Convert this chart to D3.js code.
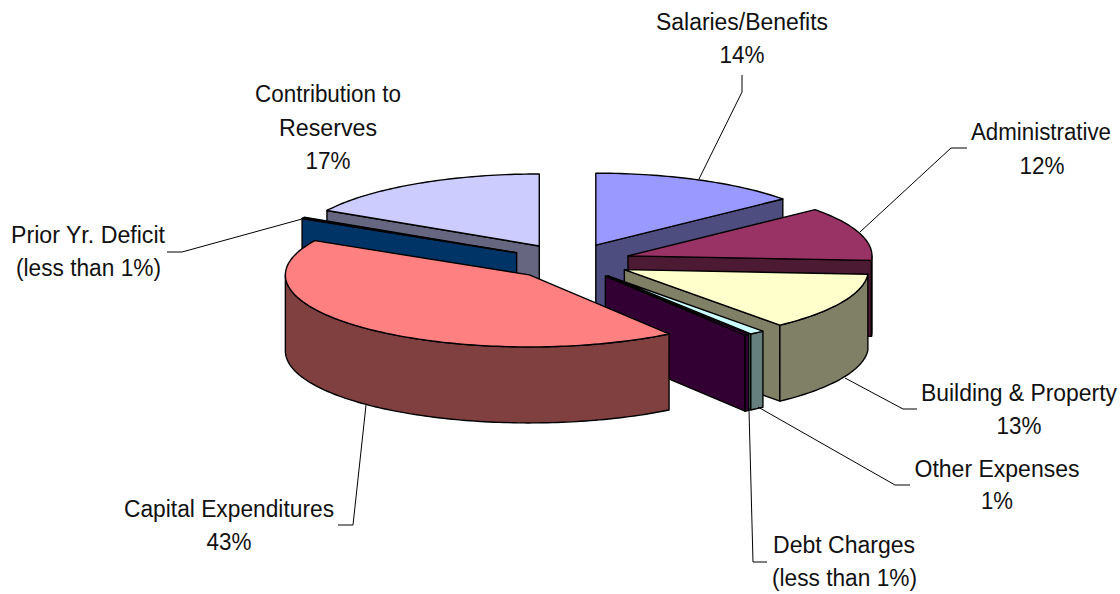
<!DOCTYPE html>
<html lang="en">
<head>
<meta charset="utf-8">
<title>Expenditures pie</title>
<script src="https://d3js.org/d3.v7.min.js"></script>
<style>
  body { margin: 0; background: #fff; }
  text { font-family: "Liberation Sans", Arial, sans-serif; font-size: 22px; fill: #111; }
</style>
</head>
<body>
<div id="canvas"></div>
<script type="text/javascript">
// slice order runs clockwise from 12 o'clock
const categories = ["Salaries/Benefits", "Administrative", "Building & Property", "Other Expenses",
  "Debt Charges", "Capital Expenditures", "Prior Yr. Deficit", "Contribution to Reserves"]
const shares = [13.9, 12.1, 13, 1, 0.3, 42.6, 0.3, 16.8]
const topColors = ["#9999ff", "#993366", "#ffffcc", "#ccffff", "#660066", "#ff8080", "#0066cc", "#ccccff"]
const wallColors = ["#4d4d80", "#4d1a33", "#808066", "#668080", "#330033", "#804040", "#003366", "#666680"]

// painter's order, back of the pie first (indexes into categories)
const drawOrder = [0, 7, 1, 2, 6, 3, 4, 5]

// label text: [string, centre x, baseline y, width]
const labelLines = [
  ["Salaries/Benefits", 742, 30, 172], ["14%", 742, 63, 45],
  ["Administrative", 1041, 140, 140], ["12%", 1042, 174, 45],
  ["Building & Property", 1019, 401, 196], ["13%", 1019, 434, 45],
  ["Other Expenses", 997, 477, 165], ["1%", 997, 509, 32],
  ["Debt Charges", 844, 553, 142], ["(less than 1%)", 844.5, 586, 145],
  ["Capital Expenditures", 229, 517, 210], ["43%", 229, 550, 45],
  ["Prior Yr. Deficit", 88, 243, 154], ["(less than 1%)", 88.5, 276, 145],
  ["Contribution to", 328, 102, 146], ["Reserves", 328, 136, 98], ["17%", 328, 169, 45]
]
const leaders = [
  [[742, 75], [742, 92], [699, 179]],
  [[967, 148], [951, 148], [860, 232]],
  [[917, 409], [903, 409], [845, 378]],
  [[910, 485], [895, 485], [758, 407]],
  [[767, 562], [753, 562], [749, 410]],
  [[338, 525], [353, 525], [366, 405]],
  [[167, 252], [182, 252], [302, 219]]
]

const width = 1120
const height = 594
const cx = 570, cy = 261.5
const rx = 244, ry = 72
const depth = 76
const explode = 0.25
const textStretch = 1.1 // the labels are taller and narrower than plain Liberation Sans

const x = d3.scaleLinear().domain([-1, 1]).range([cx - rx, cx + rx])
const y = d3.scaleLinear().domain([-1, 1]).range([cy - ry, cy + ry])

const svg = d3.select("#canvas").append("svg")
  .attr("width", width)
  .attr("height", height)
  .style("display", "block")

const arcs = d3.pie().sort(null).startAngle(0).endAngle(2 * Math.PI)(shares)
const line = d3.line()

// point on a slice: r in pie units, theta clockwise from top, dz pixels down
function pt(slice, r, theta, dz) {
  const mid = (slice.startAngle + slice.endAngle) / 2
  const ux = explode * Math.sin(mid) + r * Math.sin(theta)
  const uy = -explode * Math.cos(mid) - r * Math.cos(theta)
  return [x(ux), y(uy) + dz]
}

function rim(slice, a0, a1, dz) {
  const n = Math.max(2, Math.ceil((a1 - a0) / 0.02))
  return d3.range(n + 1).map(i => pt(slice, 1, a0 + (a1 - a0) * i / n, dz))
}

function sideWall(slice, theta) {
  return line([pt(slice, 0, theta, 0), pt(slice, 1, theta, 0),
    pt(slice, 1, theta, depth), pt(slice, 0, theta, depth)]) + "Z"
}

const pieG = svg.append("g")
  .attr("stroke", "#000")
  .attr("stroke-width", 1.4)
  .attr("stroke-linejoin", "round")

drawOrder.forEach(function(i) {
  const s = arcs[i]
  const a0 = s.startAngle, a1 = s.endAngle
  const g = pieG.append("g").attr("class", "slice").attr("data-name", categories[i])

  if (Math.sin(a1) > 0.001) g.append("path").attr("d", sideWall(s, a1)).attr("fill", wallColors[i])
  if (Math.sin(a0) < -0.001) g.append("path").attr("d", sideWall(s, a0)).attr("fill", wallColors[i])

  // outer wall only where the rim faces the viewer
  const w0 = Math.max(a0, Math.PI / 2), w1 = Math.min(a1, 3 * Math.PI / 2)
  if (w1 > w0) {
    g.append("path")
      .attr("d", line(rim(s, w0, w1, 0).concat(rim(s, w0, w1, depth).reverse())) + "Z")
      .attr("fill", wallColors[i])
  }

  g.append("path")
    .attr("d", line([pt(s, 0, a0, 0)].concat(rim(s, a0, a1, 0))) + "Z")
    .attr("fill", topColors[i])
})

svg.append("g").selectAll("path")
  .data(leaders)
  .join("path")
    .attr("d", d => line(d))
    .attr("fill", "none")
    .attr("stroke", "#000")
    .attr("stroke-width", 1)

svg.append("g").selectAll("text")
  .data(labelLines)
  .join("text")
    .attr("transform", d => `translate(${d[1]},${d[2]}) scale(1,${textStretch})`)
    .attr("text-anchor", "middle")
    .attr("textLength", d => d[3])
    .attr("lengthAdjust", "spacingAndGlyphs")
    .text(d => d[0])
</script>
</body>
</html>
